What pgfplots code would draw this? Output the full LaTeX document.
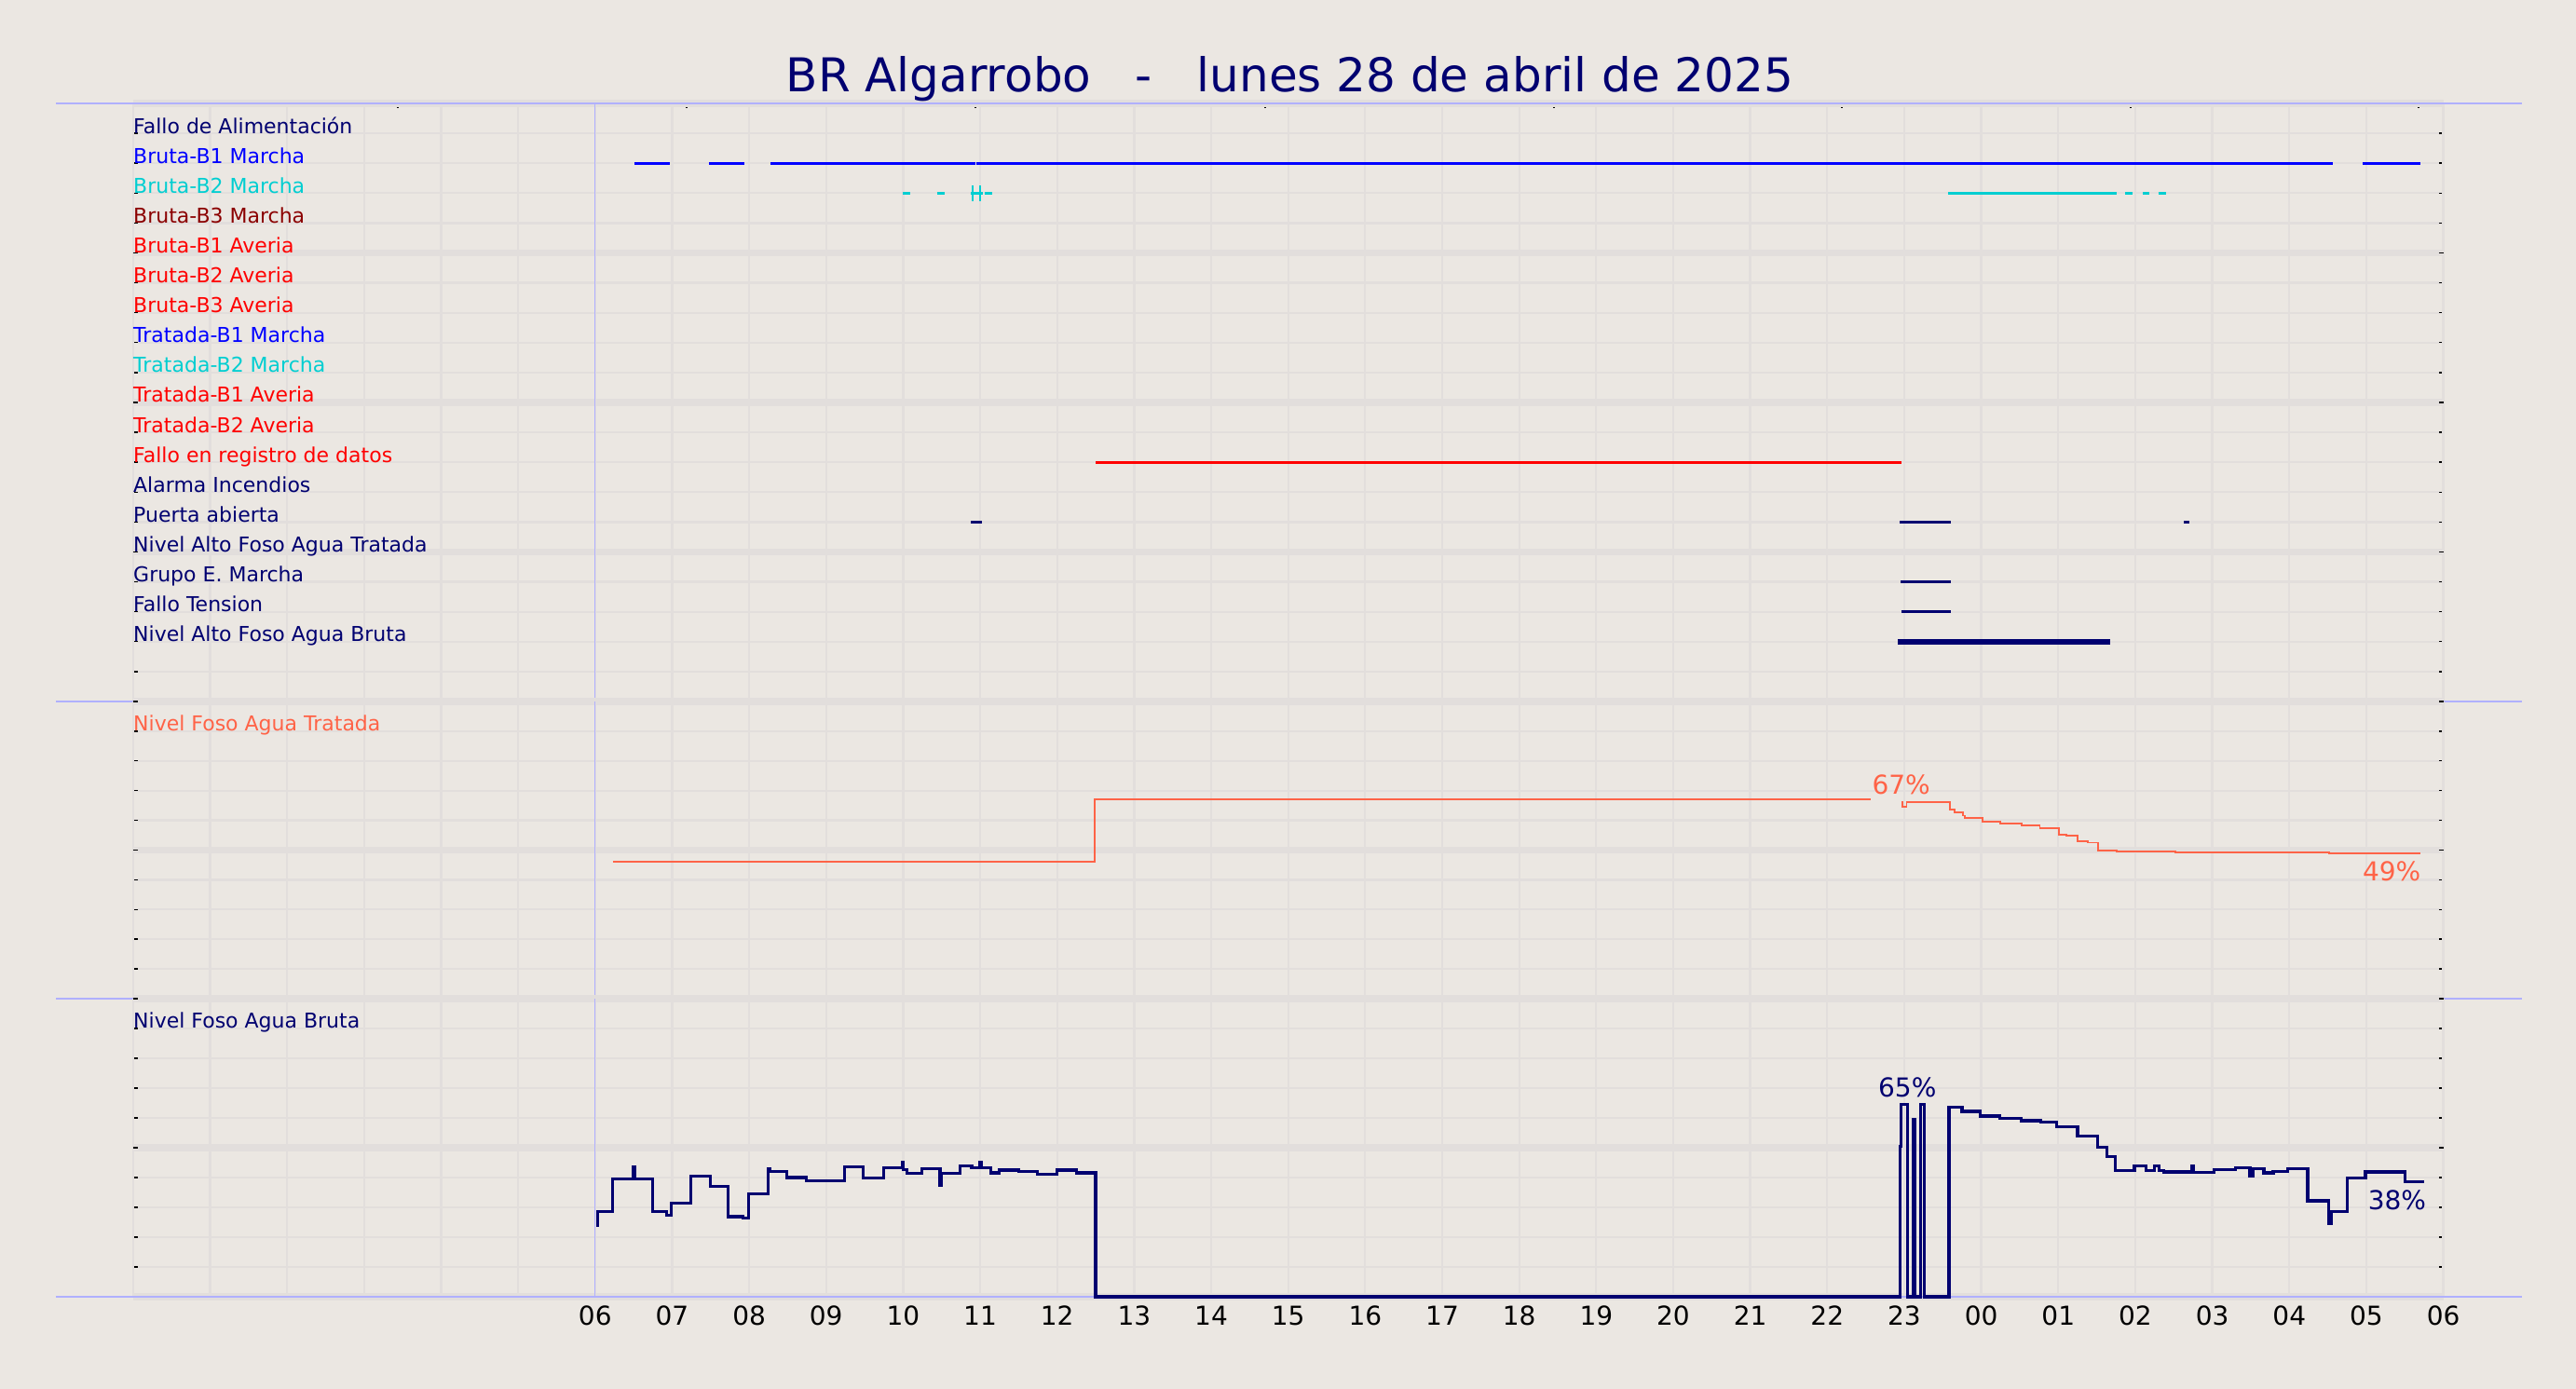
\documentclass[border=0pt]{standalone}
\usepackage{fontspec}
\setmainfont{DejaVu Sans}
\usepackage{pgfplots}
\pgfplotsset{compat=1.18}
\definecolor{bgc}{HTML}{EBE7E2}
\definecolor{gridc}{HTML}{E2DEDC}
\definecolor{sepc}{HTML}{B0B0FF}
\definecolor{navyc}{HTML}{000070}
\definecolor{tomatoc}{HTML}{FF6347}
\definecolor{turq}{HTML}{00CED1}
\definecolor{dred}{HTML}{8B0000}
\pgfplotsset{
  base/.style={
    scale only axis, width=1239.9bp, xmin=0, xmax=30,
    clip=false,
    axis line style={draw=none},
    tick align=inside,
    major tick length=2.5bp,
    every tick/.style={black, line width=0.7bp},
    ymajorgrids,
    major grid style={gridc, line width=1.15bp},
    yticklabels={},
    xtick=\empty,
    extra x ticks={0,1,...,30},
    extra x tick style={grid=major, major tick length=0pt},
    extra x tick labels={},
    unbounded coords=jump,
    /pgf/number format/assume math mode=true,
    tick label style={font=\fontsize{14bp}{16bp}\selectfont},
    xticklabel style={yshift=-1.5bp},
  },
}
\tikzset{
  lab/.style={anchor=base west, inner sep=0pt, font=\fontsize{11bp}{13bp}\selectfont},
  pct/.style={font=\fontsize{14bp}{16bp}\selectfont, inner sep=0pt},
  st/.style={line width=1.4bp},
}
\begin{document}
\begin{tikzpicture}
\path[fill=bgc, use as bounding box] (0,0) rectangle (1382.5bp,745.5bp);

% ---------------- top panel: states ----------------
\begin{axis}[base, at={(71.4bp,369bp)}, anchor=south west, height=321bp,
  ymin=0, ymax=20, ytick={0,1,...,20},
  extra y ticks={0,5,10,15,20},
  extra y tick style={major grid style={gridc, line width=3.7bp}},
  extra y tick labels={},
  xtick={3.44,7.19,10.94,14.70,18.45,22.19,25.94,29.68}, xticklabels={},
  xtick pos=right]
\addplot[sepc, line width=0.8bp] coordinates {(-1.0,20) (31.02,20)};
\addplot[sepc, line width=0.8bp] coordinates {(-1.0,0) (31.02,0)};
\addplot[sepc, line width=0.6bp] coordinates {(6,0) (6,20)};

\node[lab, text=navyc] at (axis cs:0,19) {Fallo de Alimentación};
\node[lab, text=blue] at (axis cs:0,18) {Bruta-B1 Marcha};
\node[lab, text=turq] at (axis cs:0,17) {Bruta-B2 Marcha};
\node[lab, text=dred] at (axis cs:0,16) {Bruta-B3 Marcha};
\node[lab, text=red] at (axis cs:0,15) {Bruta-B1 Averia};
\node[lab, text=red] at (axis cs:0,14) {Bruta-B2 Averia};
\node[lab, text=red] at (axis cs:0,13) {Bruta-B3 Averia};
\node[lab, text=blue] at (axis cs:0,12) {Tratada-B1 Marcha};
\node[lab, text=turq] at (axis cs:0,11) {Tratada-B2 Marcha};
\node[lab, text=red] at (axis cs:0,10) {Tratada-B1 Averia};
\node[lab, text=red] at (axis cs:0,9) {Tratada-B2 Averia};
\node[lab, text=red] at (axis cs:0,8) {Fallo en registro de datos};
\node[lab, text=navyc] at (axis cs:0,7) {Alarma Incendios};
\node[lab, text=navyc] at (axis cs:0,6) {Puerta abierta};
\node[lab, text=navyc] at (axis cs:0,5) {Nivel Alto Foso Agua Tratada};
\node[lab, text=navyc] at (axis cs:0,4) {Grupo E. Marcha};
\node[lab, text=navyc] at (axis cs:0,3) {Fallo Tension};
\node[lab, text=navyc] at (axis cs:0,2) {Nivel Alto Foso Agua Bruta};

% Bruta-B1 Marcha
\addplot[blue, st] coordinates {(6.51,18) (6.97,18) (6.97,nan) (7.48,18) (7.94,18) (7.94,nan)
  (8.28,18) (10.935,18) (10.935,nan) (10.945,18) (28.57,18) (28.57,nan) (28.95,18) (29.70,18)};
% Bruta-B2 Marcha
\addplot[turq, st] coordinates {(9.995,17) (10.09,17) (10.09,nan) (10.44,17) (10.54,17) (10.54,nan)
  (10.88,17) (11.04,17) (11.04,nan) (11.06,17) (11.16,17) (11.16,nan)
  (23.57,17) (25.76,17) (25.76,nan) (25.87,17) (25.97,17) (25.97,nan)
  (26.10,17) (26.18,17) (26.18,nan) (26.30,17) (26.40,17)};
\addplot[turq, line width=0.9bp] coordinates {(10.90,16.74) (10.90,17.26) (10.90,nan) (11.00,16.74) (11.00,17.26)};
% Fallo en registro de datos
\addplot[red, st] coordinates {(12.50,8) (22.97,8)};
% Puerta abierta
\addplot[navyc, st] coordinates {(10.88,6) (11.02,6) (11.02,nan) (22.94,6) (23.60,6) (23.60,nan) (26.63,6) (26.70,6)};
% Grupo E. Marcha
\addplot[navyc, st] coordinates {(22.95,4) (23.60,4)};
% Fallo Tension
\addplot[navyc, st] coordinates {(22.96,3) (23.61,3)};
% Nivel Alto Foso Agua Bruta
\addplot[navyc, line width=3bp] coordinates {(22.92,2) (25.67,2)};

\node[anchor=base, inner sep=0pt, font=\fontsize{25bp}{28bp}\selectfont, text=navyc]
  at (axis cs:15.02,20.40) {BR Algarrobo\ \ \ -\ \ \ lunes 28 de abril de 2025};
\end{axis}

% ---------------- middle panel: Nivel Foso Agua Tratada ----------------
\begin{axis}[base, at={(71.4bp,209.5bp)}, anchor=south west, height=159.5bp,
  ymin=0, ymax=100, ytick={0,10,...,100},
  extra y ticks={0,50,100},
  extra y tick style={major grid style={gridc, line width=3.7bp}},
  extra y tick labels={}]
\addplot[sepc, line width=0.8bp] coordinates {(-1.0,0) (31.02,0)};
\addplot[sepc, line width=0.6bp] coordinates {(6,0) (6,100)};
\node[lab, text=tomatoc] at (axis cs:0,90) {Nivel Foso Agua Tratada};
\addplot[tomatoc, line width=0.9bp, const plot] coordinates {
  (6.23,46.1) (12.49,67.0) (22.57,67.0) (22.57,nan)
  (22.97,66.2) (22.98,64.6) (23.03,66.2) (23.59,63.7) (23.65,62.6) (23.76,61.6)
  (23.79,60.8) (24.02,59.5) (24.25,59.0) (24.52,58.3) (24.76,57.4) (25.01,55.2)
  (25.11,54.9) (25.25,52.9) (25.38,52.5) (25.52,49.8) (25.76,49.5) (26.52,49.2)
  (28.52,48.9) (29.70,48.9)};
\node[pct, text=tomatoc] at (axis cs:22.96,72) {67\%};
\node[pct, text=tomatoc] at (axis cs:29.33,43) {49\%};
\end{axis}

% ---------------- bottom panel: Nivel Foso Agua Bruta ----------------
\begin{axis}[base, at={(71.4bp,49.5bp)}, anchor=south west, height=160bp,
  ymin=0, ymax=100, ytick={0,10,...,100},
  extra y ticks={0,50,100},
  extra y tick style={major grid style={gridc, line width=3.7bp}},
  extra y tick labels={},
  extra x tick labels={,,,,,,06,07,08,09,10,11,12,13,14,15,16,17,18,19,20,21,22,23,00,01,02,03,04,05,06}]
\addplot[sepc, line width=0.8bp] coordinates {(-1.0,0) (31.02,0)};
\addplot[sepc, line width=0.6bp] coordinates {(6,0) (6,100)};
\node[lab, text=navyc] at (axis cs:0,90) {Nivel Foso Agua Bruta};
\addplot[navyc, line width=1.65bp, const plot] coordinates {
  (6.02,24.0) (6.03,28.7) (6.23,39.5) (6.50,43.5) (6.51,39.5) (6.75,28.5) (6.93,27.3)
  (6.99,31.4) (7.24,40.4) (7.50,37.1) (7.73,26.9) (7.92,26.4) (7.99,34.6) (8.25,42.8)
  (8.27,42.1) (8.49,40.0) (8.74,39.0) (9.24,43.6) (9.48,39.8) (9.75,43.2) (9.99,45.0)
  (10.00,42.7) (10.05,41.3) (10.24,43.0) (10.48,37.4) (10.49,41.4) (10.74,43.9)
  (10.89,43.3) (11.00,45.0) (11.02,43.3) (11.14,41.6) (11.25,42.5) (11.50,42.1)
  (11.74,41.2) (12.00,42.5) (12.25,41.6) (12.50,0) (22.95,50.5) (22.96,64.5)
  (23.04,0) (23.12,59.4) (23.14,0) (23.21,64.5) (23.26,0) (23.58,63.7) (23.75,62.2)
  (23.99,60.6) (24.24,59.8) (24.52,59.1) (24.77,58.5) (24.98,57.0) (25.25,53.9)
  (25.51,50.2) (25.63,47.1) (25.74,42.4) (25.99,44.0) (26.14,42.4) (26.25,44.0)
  (26.31,42.4) (26.37,41.9) (26.74,44.0) (26.76,41.7) (27.02,42.6) (27.30,43.2)
  (27.49,40.5) (27.53,43.0) (27.67,41.6) (27.79,42.1) (27.98,43.0) (28.24,32.2)
  (28.51,24.7) (28.54,28.6) (28.75,39.8) (28.99,41.9) (29.50,38.5) (29.75,38.5)};
\node[pct, text=navyc] at (axis cs:23.04,70.3) {65\%};
\node[pct, text=navyc] at (axis cs:29.40,32.5) {38\%};
\end{axis}
\end{tikzpicture}
\end{document}
